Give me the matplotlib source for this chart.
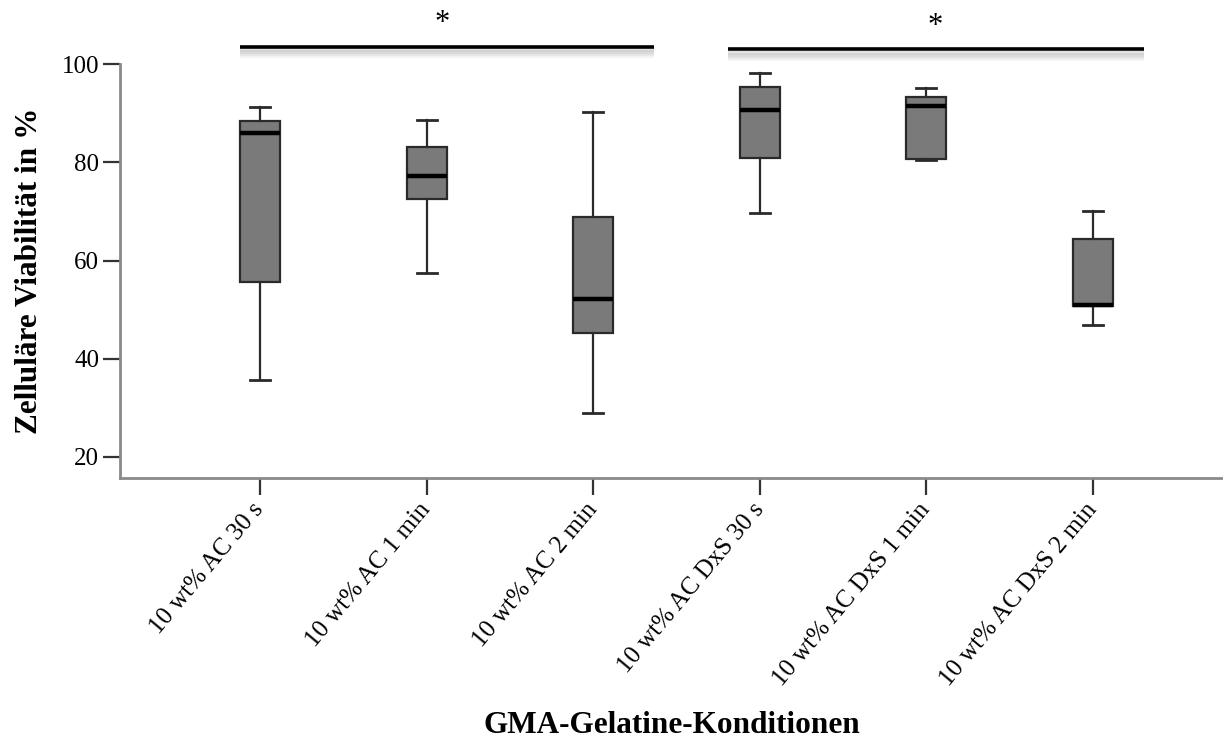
import matplotlib
matplotlib.use("Agg")
import matplotlib.pyplot as plt
import matplotlib.patheffects as pe

plt.rcParams['font.family'] = ['Liberation Serif', 'DejaVu Serif']

# Conditions and box-plot summary statistics (cell viability, %)
conditions = ["10 wt% AC 30 s", "10 wt% AC 1 min", "10 wt% AC 2 min",
              "10 wt% AC DxS 30 s", "10 wt% AC DxS 1 min", "10 wt% AC DxS 2 min"]
whisker_low = [35.6, 57.4, 29.0, 69.7, 80.5, 46.8]
quartile_1 = [55.7, 72.5, 45.2, 81.0, 80.8, 50.7]
median = [85.9, 77.2, 52.1, 90.7, 91.6, 51.0]
quartile_3 = [88.5, 83.2, 68.9, 95.4, 93.3, 64.4]
whisker_high = [91.4, 88.6, 90.3, 98.2, 95.1, 70.1]

yticks = [20, 40, 60, 80, 100]

stats = [dict(whislo=lo, q1=a, med=m, q3=b, whishi=hi, fliers=[])
         for lo, a, m, b, hi in zip(whisker_low, quartile_1, median, quartile_3, whisker_high)]

fig = plt.figure(figsize=(12.23, 7.42), dpi=100)
ax = fig.add_axes([0.0981, 0.3558, 0.9019, 0.5575])

edge = "#2a2a2a"
ax.bxp(stats, positions=range(len(stats)), widths=0.24, capwidths=0.12,
       patch_artist=True, showfliers=False,
       boxprops=dict(facecolor="#7a7a7a", edgecolor=edge, linewidth=1.6),
       medianprops=dict(color="black", linewidth=3.2, solid_capstyle="butt"),
       whiskerprops=dict(color=edge, linewidth=1.6),
       capprops=dict(color=edge, linewidth=2.0))

ax.set_xlim(-0.84, 5.78)
ax.set_ylim(15.66, 100)
ax.set_yticks(yticks)
ax.set_yticklabels([str(v) for v in yticks], fontsize=18)
ax.set_xticks(range(len(conditions)))
ax.set_xticklabels(conditions, fontsize=18, rotation=50,
                   ha="right", va="center", rotation_mode="anchor")

for s in ("top", "right"):
    ax.spines[s].set_visible(False)
for s in ("left", "bottom"):
    ax.spines[s].set_color("#8a8a8a")
    ax.spines[s].set_linewidth(2.0)
ax.tick_params(axis="both", direction="out", length=12, width=1.6, color="#333333")
ax.tick_params(axis="y", pad=3)
ax.tick_params(axis="x", pad=8)

ax.set_ylabel("Zelluläre Viabilität in %", fontsize=22.5, fontweight="bold", labelpad=13)
fig.text(0.549, 2 / 742, "GMA-Gelatine-Konditionen", fontsize=22.5, fontweight="bold",
         ha="center", va="bottom")

# Significance brackets with a soft drop shadow
shadow = [pe.SimpleLineShadow(offset=(0, -k), shadow_color="#b0b0b0", alpha=a, linewidth=3)
          for k, a in ((7, 0.12), (5.5, 0.2), (4, 0.3), (2.5, 0.35))] + [pe.Normal()]
for (x0, x1, y), (sx, sy) in (((-0.122, 2.367, 103.59), (1.094, 108.3)),
                              ((2.810, 5.304, 103.06), (4.05, 107.8))):
    ax.plot([x0, x1], [y, y], color="black", linewidth=2.6, clip_on=False,
            solid_capstyle="butt", path_effects=shadow)
    ax.text(sx, sy, "*", fontsize=22, ha="center", va="center", clip_on=False)

fig.savefig("out.png", dpi=100)
